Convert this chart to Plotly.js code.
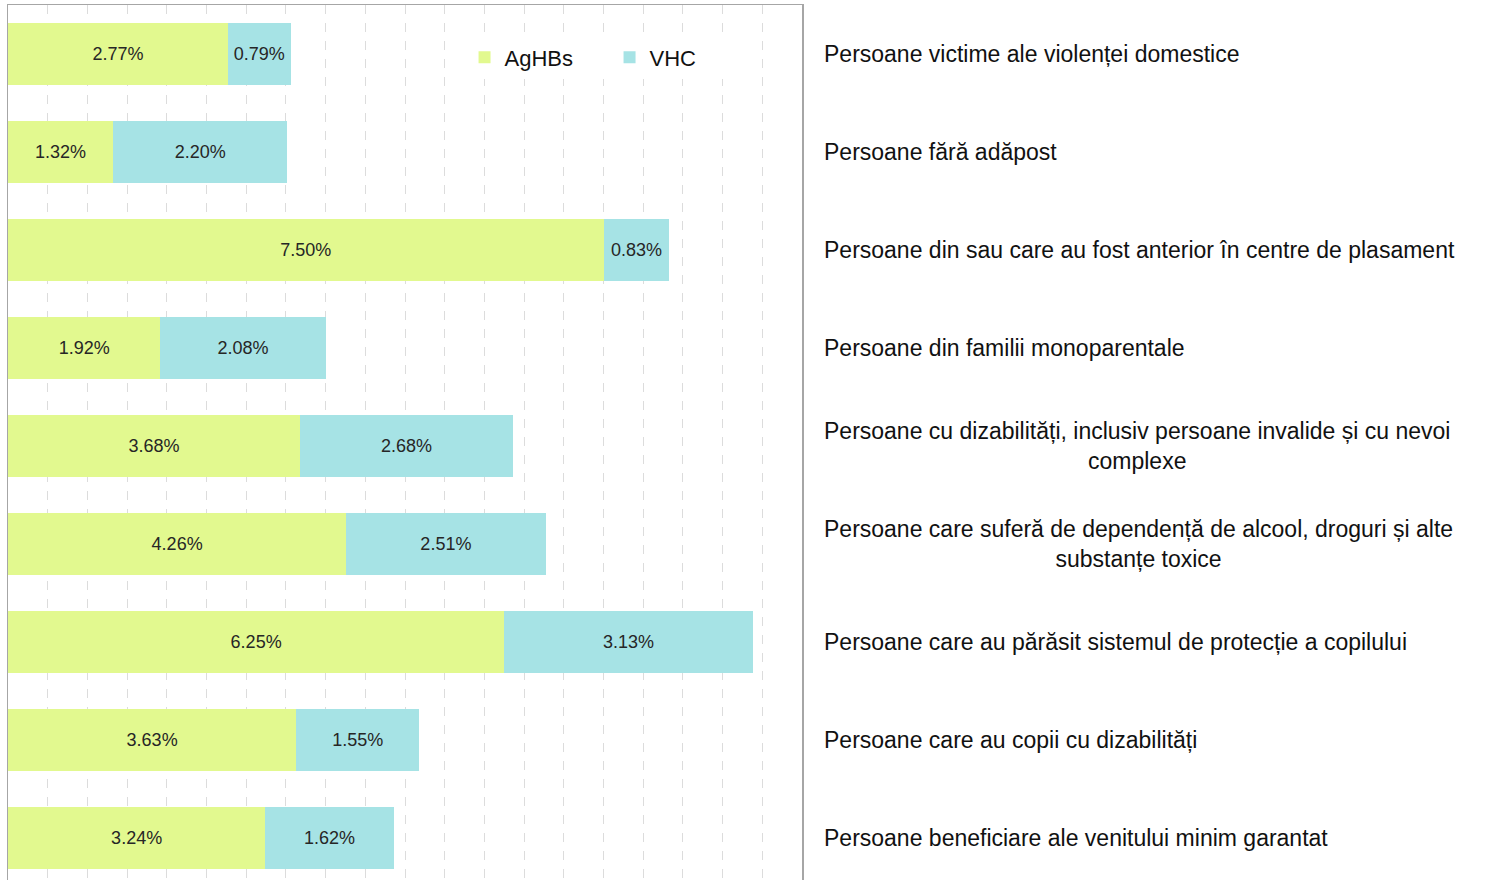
<!DOCTYPE html>
<html>
<head>
<meta charset="utf-8">
<script src="https://cdn.plot.ly/plotly-3.0.1.min.js"></script>
<style>
html,body{margin:0;padding:0;background:#fff;}
</style>
</head>
<body>
<div id="chart" style="width:1493px;height:880px;"></div>
<script>
const categories = [
  "Persoane victime ale violenței domestice",
  "Persoane fără adăpost",
  "Persoane din sau care au fost anterior în centre de plasament",
  "Persoane din familii monoparentale",
  "Persoane cu dizabilități, inclusiv persoane invalide și cu nevoi<br>complexe",
  "Persoane care suferă de dependență de alcool, droguri și alte<br>substanțe toxice",
  "Persoane care au părăsit sistemul de protecție a copilului",
  "Persoane care au copii cu dizabilități",
  "Persoane beneficiare ale venitului minim garantat"
];
const agHBs = [2.77, 1.32, 7.50, 1.92, 3.68, 4.26, 6.25, 3.63, 3.24];
const vhc   = [0.79, 2.20, 0.83, 2.08, 2.68, 2.51, 3.13, 1.55, 1.62];
const seriesNames = ["AgHBs", "VHC"];

const FONT = '"Liberation Sans", Arial, sans-serif';
const yIdx = categories.map((c, i) => i);

function barTrace(name, vals, color) {
  return {
    type: 'bar', orientation: 'h', name: name,
    x: vals, y: yIdx,
    marker: {color: color, line: {width: 0}},
    texttemplate: '%{x:.2f}%',
    textposition: 'inside',
    insidetextanchor: 'middle',
    constraintext: 'none',
    textfont: {family: FONT, size: 18, color: '#262626'},
    hoverinfo: 'skip'
  };
}

const data = [
  barTrace(seriesNames[0], agHBs, '#E2F98F'),
  barTrace(seriesNames[1], vhc, '#A6E3E5')
];

const annotations = categories.map((c, i) => ({
  xref: 'paper', yref: 'y',
  x: 1.0252, y: i,
  xanchor: 'left', yanchor: 'middle', align: 'center',
  text: c, showarrow: false,
  font: {family: FONT, size: 23, color: '#111'}
}));

const layout = {
  width: 1493, height: 880,
  margin: {l: 8, r: 691, t: 5, b: 0, pad: 0},
  paper_bgcolor: '#fff', plot_bgcolor: '#fff',
  barmode: 'stack',
  bargap: 0.367,
  font: {family: FONT},
  xaxis: {
    range: [0, 10], dtick: 0.5, tick0: 0,
    showticklabels: false, ticks: '',
    showgrid: true, gridcolor: '#dcdcdc', griddash: 'dash', gridwidth: 1,
    zeroline: false,
    side: 'top', showline: true, linecolor: '#a6a6a6', linewidth: 1.5
  },
  yaxis: {
    type: 'linear',
    range: [8.429, -0.5],
    showticklabels: false, ticks: '',
    showgrid: false, zeroline: false,
    showline: true, mirror: true, linecolor: '#a6a6a6', linewidth: 1.5
  },
  showlegend: true,
  legend: {
    orientation: 'h', xref: 'paper', yref: 'paper',
    x: 0.575, y: 0.94, xanchor: 'left', yanchor: 'middle',
    bgcolor: '#fff', borderwidth: 0,
    font: {family: FONT, size: 22, color: '#111'},
    itemwidth: 30, entrywidth: 100, entrywidthmode: 'pixels',
    traceorder: 'normal'
  },
  annotations: annotations
};

Plotly.newPlot('chart', data, layout, {displayModeBar: false, staticPlot: true});
</script>
</body>
</html>
